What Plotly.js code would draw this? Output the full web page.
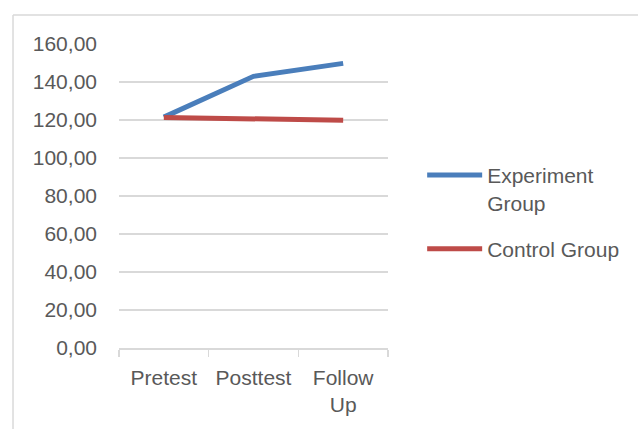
<!DOCTYPE html>
<html>
<head>
<meta charset="utf-8">
<script src="https://cdn.plot.ly/plotly-3.0.1.min.js"></script>
<style>html,body{margin:0;padding:0;background:#fff;}#chart{width:638px;height:429px;}</style>
</head>
<body>
<div id="chart"></div>
<script>
const categories = ["Pretest", "Posttest", "Follow<br>Up"];
const experimentGroup = [121.5, 143.0, 149.8];
const controlGroup = [121.3, 120.3, 119.9];
const yTickValues = [0, 20, 40, 60, 80, 100, 120, 140, 160];
const yTickLabels = ["0,00", "20,00", "40,00", "60,00", "80,00", "100,00", "120,00", "140,00", "160,00"];

const font = {family: "Liberation Sans, Arial, sans-serif", size: 21, color: "#595959"};

const traces = [
  {x: categories, y: experimentGroup, type: "scatter", mode: "lines", name: "Experiment<br>Group",
   legendgroup: "exp", line: {color: "#4A7EBB", width: 5}},
  {x: categories, y: controlGroup, type: "scatter", mode: "lines", name: "Control Group",
   legendgroup: "ctl", line: {color: "#BE4B48", width: 5}}
];

const layout = {
  width: 638, height: 429,
  margin: {l: 119, r: 250, t: 44, b: 81},
  paper_bgcolor: "#ffffff", plot_bgcolor: "#ffffff",
  font: font,
  showlegend: true,
  legend: {x: 1.127, y: 0.635, xanchor: "left", yanchor: "top", font: font, itemwidth: 55, valign: "top",
           bgcolor: "rgba(0,0,0,0)", tracegroupgap: 16},
  xaxis: {type: "category", range: [-0.5, 2.5], tickson: "boundaries", ticks: "outside", ticklen: 7,
          tickcolor: "#d9d9d9", tickwidth: 1.5, showline: true, linecolor: "#d9d9d9", linewidth: 1.5,
          showgrid: false, tickfont: font, ticklabelstandoff: 10, fixedrange: true},
  yaxis: {range: [0, 160], tickvals: yTickValues, ticktext: yTickLabels, showgrid: true,
          gridcolor: "#d9d9d9", gridwidth: 1.5, zeroline: false, showline: false, ticks: "",
          ticklabelstandoff: 21, tickfont: font, fixedrange: true},
  shapes: [
    {type: "line", xref: "paper", yref: "paper", x0: -0.394, x1: 2, y0: 1.095, y1: 1.095,
     line: {color: "#d9d9d9", width: 1.5}},
    {type: "line", xref: "paper", yref: "paper", x0: -0.394, x1: -0.394, y0: 1.095, y1: -0.5,
     line: {color: "#d9d9d9", width: 1.5}}
  ]
};

Plotly.newPlot("chart", traces, layout, {displayModeBar: false, staticPlot: true});
</script>
</body>
</html>
